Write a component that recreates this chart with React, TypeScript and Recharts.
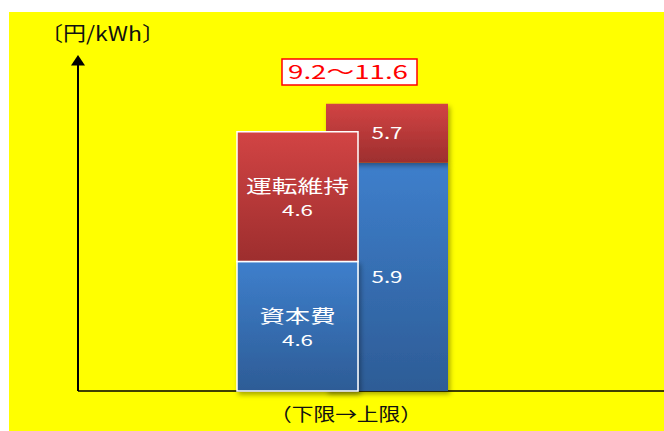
import React from 'react';
import { BarChart, Bar, XAxis, YAxis, LabelList } from 'recharts';

// Categories: lower bound and upper bound of the cost range
const categories = ['下限', '上限'];
// Component names
const componentNames = ['資本費', '運転維持'];
// Drawn heights (the picture is illustrative, not to scale)
const capitalHeights = [4.6, 8.1];
const omHeights = [4.6, 2.1];
// Value labels printed on the bars
const capitalLabels = ['4.6', '5.9'];
const omLabels = ['4.6', '5.7'];
const rangeLabel = '9.2〜11.6';
const yAxisTitle = '〔円/kWh〕';
const xAxisTitle = '（下限→上限）';

const data = [
  {
    name: categories.join('→'),
    lowCap: capitalHeights[0],
    lowOm: omHeights[0],
    highCap: capitalHeights[1],
    highOm: omHeights[1],
  },
];

const FONT = '"Noto Sans CJK JP", "Noto Sans", sans-serif';

const centerLabel = (text: string, len: number) => (props: any) => {
  const { x, y, width, height } = props;
  const cx = x + width / 2;
  const cy = y + height / 2;
  return (
    <text
      x={cx}
      y={cy + 6}
      textAnchor="middle"
      fill="#fff"
      fontSize={16}
      fontFamily={FONT}
      textLength={len}
      lengthAdjust="spacingAndGlyphs"
    >
      {text}
    </text>
  );
};

const twoLineLabel = (name: string, nameLen: number, value: string) => (props: any) => {
  const { x, y, width, height } = props;
  const cx = x + width / 2;
  const cy = y + height / 2;
  return (
    <g>
      <text
        x={cx}
        y={cy - 3.5}
        textAnchor="middle"
        fill="#fff"
        fontSize={18}
        fontFamily={FONT}
        textLength={nameLen}
        lengthAdjust="spacingAndGlyphs"
      >
        {name}
      </text>
      <text
        x={cx}
        y={cy + 19.5}
        textAnchor="middle"
        fill="#fff"
        fontSize={15}
        fontFamily={FONT}
        textLength={31}
        lengthAdjust="spacingAndGlyphs"
      >
        {value}
      </text>
    </g>
  );
};

export default function App() {
  return (
    <div style={{ position: 'absolute', left: 0, top: 0, width: 664, height: 431, background: '#fff' }}>
      <div style={{ position: 'absolute', left: 9, top: 12, width: 655, height: 419, background: '#ffff00' }} />
      <div style={{ position: 'absolute', left: 0, top: 0 }}>
        <BarChart
          width={664}
          height={431}
          data={data}
          margin={{ top: 53, right: 0, left: 78, bottom: 40 }}
        >
          <defs>
            <linearGradient id="gRed" x1="0" y1="0" x2="0" y2="1">
              <stop offset="0%" stopColor="#D24444" />
              <stop offset="100%" stopColor="#9D2E2E" />
            </linearGradient>
            <linearGradient id="gBlue" x1="0" y1="0" x2="0" y2="1">
              <stop offset="0%" stopColor="#3E7FCC" />
              <stop offset="100%" stopColor="#2D5C96" />
            </linearGradient>
            <filter id="shadow" x="-10%" y="-10%" width="130%" height="130%">
              <feDropShadow dx="2" dy="3" stdDeviation="2.5" floodColor="#000" floodOpacity="0.35" />
            </filter>
          </defs>
          <XAxis xAxisId="lo" dataKey="name" hide padding={{ left: 0, right: 147 }} />
          <XAxis xAxisId="hi" dataKey="name" hide padding={{ left: 32, right: 0 }} />
          <YAxis hide domain={[0, 12]} />
          <Bar
            xAxisId="hi"
            dataKey="highCap"
            stackId="hi"
            barSize={122}
            fill="url(#gBlue)"
            filter="url(#shadow)"
            isAnimationActive={false}
          >
            <LabelList dataKey="highCap" content={centerLabel(capitalLabels[1], 31)} />
          </Bar>
          <Bar
            xAxisId="hi"
            dataKey="highOm"
            stackId="hi"
            barSize={122}
            fill="url(#gRed)"
            filter="url(#shadow)"
            isAnimationActive={false}
          >
            <LabelList dataKey="highOm" content={centerLabel(omLabels[1], 31)} />
          </Bar>
          <Bar
            xAxisId="lo"
            dataKey="lowCap"
            stackId="lo"
            barSize={121}
            fill="url(#gBlue)"
            stroke="#ffffff"
            strokeWidth={1.5}
            filter="url(#shadow)"
            isAnimationActive={false}
          >
            <LabelList dataKey="lowCap" content={twoLineLabel(componentNames[0], 76, capitalLabels[0])} />
          </Bar>
          <Bar
            xAxisId="lo"
            dataKey="lowOm"
            stackId="lo"
            barSize={121}
            fill="url(#gRed)"
            stroke="#ffffff"
            strokeWidth={1.5}
            isAnimationActive={false}
          >
            <LabelList dataKey="lowOm" content={twoLineLabel(componentNames[1], 103, omLabels[0])} />
          </Bar>
          {/* axes decorations */}
          <line x1={78} y1={391} x2={664} y2={391} stroke="#000" strokeWidth={1.5} />
          <line x1={78} y1={391} x2={78} y2={64} stroke="#000" strokeWidth={2} />
          <polygon points="78,55 71,65.5 85,65.5" fill="#000" />
          <text
            x={40}
            y={41}
            fontSize={20}
            fontFamily={FONT}
            fill="#111"
            textLength={125}
            lengthAdjust="spacingAndGlyphs"
          >
            {yAxisTitle}
          </text>
          <rect x={282} y={59} width={135} height={26} fill="#fff" stroke="#ff0000" strokeWidth={1.5} />
          <text
            x={348}
            y={79}
            textAnchor="middle"
            fontSize={19}
            fontFamily={FONT}
            fill="#ff0000"
            textLength={120}
            lengthAdjust="spacingAndGlyphs"
          >
            {rangeLabel}
          </text>
          <text
            x={346}
            y={421}
            textAnchor="middle"
            fontSize={18}
            fontFamily={FONT}
            fill="#111"
            textLength={152}
            lengthAdjust="spacingAndGlyphs"
          >
            {xAxisTitle}
          </text>
        </BarChart>
      </div>
    </div>
  );
}
